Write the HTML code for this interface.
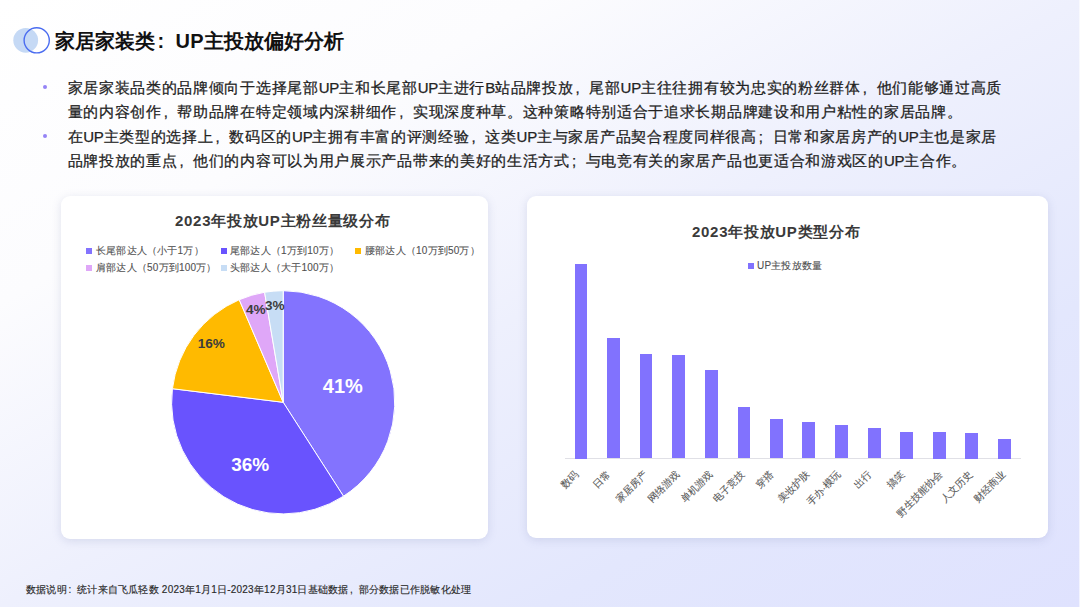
<!DOCTYPE html>
<html><head><meta charset="utf-8">
<style>
*{margin:0;padding:0;box-sizing:border-box;}
html,body{width:1080px;height:607px;overflow:hidden;}
body{position:relative;font-family:"Liberation Sans",sans-serif;background:linear-gradient(to bottom right,#ffffff 0%,#fcfcfe 25%,#eef0fd 50%,#e3e7fd 75%,#dfe2fe 100%);color:#262626;}
.abs{position:absolute;white-space:nowrap;}
.title{left:55px;top:27px;font-size:20px;font-weight:bold;line-height:28px;color:#111;letter-spacing:0.1px;}
.colon{display:inline-block;width:20.1px;padding-left:2px;}
.para{left:67.5px;font-size:15px;line-height:24.55px;letter-spacing:0.7px;color:#222;-webkit-text-stroke:0.25px #222;}
.l{letter-spacing:-0.2px;}
.cm{display:inline-block;width:15.7px;padding-left:2px;}
.dot{position:absolute;width:4px;height:4px;border-radius:50%;background:#9584F6;}
.card{position:absolute;background:#fff;border-radius:9px;box-shadow:0 2px 10px rgba(110,120,170,0.2);}
.ctitle{font-size:15px;font-weight:bold;color:#3a3a3a;line-height:20px;letter-spacing:0.7px;}
.leg{font-size:10px;color:#505050;line-height:14px;letter-spacing:0.2px;-webkit-text-stroke:0.1px #505050;}
.sq{position:absolute;width:6px;height:6px;}
.xl{position:absolute;font-size:10px;color:#5a5a5a;-webkit-text-stroke:0.1px #5a5a5a;line-height:12px;transform-origin:100% 50%;transform:rotate(-45deg);text-align:right;}
.bar{position:absolute;width:12.7px;background:#8172FE;}
.foot{left:26px;top:582.5px;font-size:10px;line-height:14px;letter-spacing:0.22px;color:#2a2a2a;-webkit-text-stroke:0.15px #2a2a2a;}
.cf{display:inline-block;width:10.22px;padding-left:1.5px;}
</style></head>
<body>
<!-- header icon -->
<svg class="abs" style="left:0;top:0" width="60" height="60">
  <circle cx="25.7" cy="40.3" r="12.4" fill="#C5D9F5"/>
  <circle cx="36.7" cy="40.3" r="12.6" fill="none" stroke="#4A6CF0" stroke-width="1.4"/>
</svg>
<div class="abs title">家居家装类<span class="colon">:</span>UP主投放偏好分析</div>

<div class="dot" style="left:43.4px;top:84.5px"></div>
<div class="dot" style="left:43.4px;top:133.7px"></div>
<div class="abs para" style="top:75.6px">家居家装品类的品牌倾向于选择尾部<span class="l">UP</span>主和长尾部<span class="l">UP</span>主进行<span class="l">B</span>站品牌投放<span class="cm">,</span>尾部<span class="l">UP</span>主往往拥有较为忠实的粉丝群体<span class="cm">,</span>他们能够通过高质<br>量的内容创作<span class="cm">,</span>帮助品牌在特定领域内深耕细作<span class="cm">,</span>实现深度种草。这种策略特别适合于追求长期品牌建设和用户粘性的家居品牌。<br>在<span class="l">UP</span>主类型的选择上<span class="cm">,</span>数码区的<span class="l">UP</span>主拥有丰富的评测经验<span class="cm">,</span>这类<span class="l">UP</span>主与家居产品契合程度同样很高<span class="cm">;</span>日常和家居房产的<span class="l">UP</span>主也是家居<br>品牌投放的重点<span class="cm">,</span>他们的内容可以为用户展示产品带来的美好的生活方式<span class="cm">;</span>与电竞有关的家居产品也更适合和游戏区的<span class="l">UP</span>主合作。</div>

<!-- left card -->
<div class="card" style="left:61px;top:196px;width:427px;height:343px"></div>
<div class="abs ctitle" style="left:175px;top:211px">2023年投放UP主粉丝量级分布</div>
<div class="sq" style="left:86px;top:247.5px;background:#8373FE"></div>
<div class="abs leg" style="left:96px;top:243.5px">长尾部达人（小于1万）</div>
<div class="sq" style="left:221px;top:247.5px;background:#6953FE"></div>
<div class="abs leg" style="left:230px;top:243.5px">尾部达人（1万到10万）</div>
<div class="sq" style="left:355px;top:247.5px;background:#FFBA00"></div>
<div class="abs leg" style="left:365px;top:243.5px">腰部达人（10万到50万）</div>
<div class="sq" style="left:86px;top:265px;background:#DFA7F8"></div>
<div class="abs leg" style="left:96px;top:260.5px">肩部达人（50万到100万）</div>
<div class="sq" style="left:221px;top:265px;background:#C7DDF5"></div>
<div class="abs leg" style="left:230px;top:260.5px">头部达人（大于100万）</div>

<svg class="abs" style="left:0;top:0" width="540" height="607">
<g stroke="#fff" stroke-width="1" stroke-linejoin="round">
<path d="M283.2 402.3 L283.20 290.70 A111.6 111.6 0 0 1 343.49 496.21 Z" fill="#8373FE"/>
<path d="M283.2 402.3 L343.49 496.21 A111.6 111.6 0 0 1 172.43 388.70 Z" fill="#6953FE"/>
<path d="M283.2 402.3 L172.43 388.70 A111.6 111.6 0 0 1 239.24 299.72 Z" fill="#FFBA00"/>
<path d="M283.2 402.3 L239.24 299.72 A111.6 111.6 0 0 1 264.59 292.26 Z" fill="#DFA7F8"/>
<path d="M283.2 402.3 L264.59 292.26 A111.6 111.6 0 0 1 283.20 290.70 Z" fill="#C7DDF5"/>
</g>
<g font-family="Liberation Sans, sans-serif" font-weight="bold">
<text x="342.8" y="392.7" font-size="20" fill="#fff" text-anchor="middle">41%</text>
<text x="250.2" y="471" font-size="19" fill="#fff" text-anchor="middle">36%</text>
<text x="211.3" y="348.3" font-size="13.6" fill="#3d3d3d" text-anchor="middle">16%</text>
<text x="255.8" y="313.6" font-size="13.6" fill="#3d3d3d" text-anchor="middle">4%</text>
<text x="274.9" y="310" font-size="13.6" fill="#3d3d3d" text-anchor="middle">3%</text>
</g>
</svg>

<!-- right card -->
<div class="card" style="left:527px;top:196px;width:521px;height:342px"></div>
<div class="abs ctitle" style="left:692px;top:222px">2023年投放UP类型分布</div>
<div class="sq" style="left:748px;top:263px;background:#8172FE"></div>
<div class="abs leg" style="left:757px;top:259px">UP主投放数量</div>

<div class="abs" style="left:565px;top:458px;width:456px;height:1px;background:#E0E0E6"></div>
<div class="bar" style="left:574.5px;top:264px;height:194.5px"></div>
<div class="bar" style="left:607.3px;top:337.7px;height:120.8px"></div>
<div class="bar" style="left:639.8px;top:354.2px;height:104.3px"></div>
<div class="bar" style="left:672.4px;top:354.8px;height:103.7px"></div>
<div class="bar" style="left:705.2px;top:369.7px;height:88.8px"></div>
<div class="bar" style="left:737.6px;top:406.6px;height:51.9px"></div>
<div class="bar" style="left:770.4px;top:419.3px;height:39.2px"></div>
<div class="bar" style="left:802.3px;top:421.6px;height:36.9px"></div>
<div class="bar" style="left:835.2px;top:425.3px;height:33.2px"></div>
<div class="bar" style="left:868.1px;top:428.4px;height:30.1px"></div>
<div class="bar" style="left:900.3px;top:432px;height:26.5px"></div>
<div class="bar" style="left:933.2px;top:432px;height:26.5px"></div>
<div class="bar" style="left:965.3px;top:432.5px;height:26px"></div>
<div class="bar" style="left:998px;top:439px;height:19.5px"></div>

<div class="xl" style="right:503.2px;top:467px">数码</div>
<div class="xl" style="right:470.6px;top:467px">日常</div>
<div class="xl" style="right:434.5px;top:467px">家居房产</div>
<div class="xl" style="right:402.0px;top:467px">网络游戏</div>
<div class="xl" style="right:369.4px;top:467px">单机游戏</div>
<div class="xl" style="right:336.8px;top:467px">电子竞技</div>
<div class="xl" style="right:307.7px;top:467px">穿搭</div>
<div class="xl" style="right:271.6px;top:467px">美妆护肤</div>
<div class="xl" style="right:240.5px;top:467px">手办·模玩</div>
<div class="xl" style="right:210.0px;top:467px">出行</div>
<div class="xl" style="right:177.4px;top:467px">搞笑</div>
<div class="xl" style="right:139.3px;top:467px">野生技能协会</div>
<div class="xl" style="right:108.8px;top:467px">人文历史</div>
<div class="xl" style="right:76.2px;top:467px">财经商业</div>

<div class="abs foot">数据说明<span class="cf">:</span>统计来自飞瓜轻数 2023年1月1日-2023年12月31日基础数据<span class="cf">,</span>部分数据已作脱敏化处理</div>
<div class="abs" style="left:1079px;top:0;width:1px;height:607px;background:rgba(255,255,255,0.6)"></div>
</body></html>
